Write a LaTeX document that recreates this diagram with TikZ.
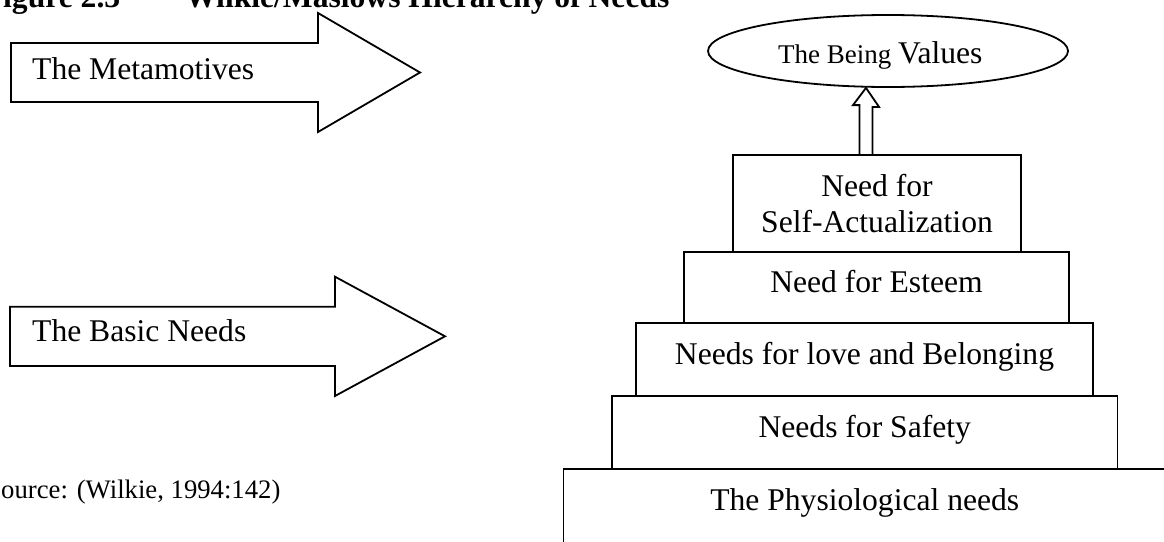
\documentclass[tikz,border=0pt]{standalone}
\usepackage{fontspec}
\setmainfont{Liberation Serif}
\usetikzlibrary{shapes.geometric,calc}
\tikzset{
  outline/.style={line width=1.8pt, line join=miter},
  tier/.style={draw, rectangle, line width=1.8pt, inner sep=0pt,
    font=\fontsize{31.6pt}{36.7pt}\selectfont},
  onetier/.style={tier, text height=19pt, text depth=8.5pt},
  bigtxt/.style={inner sep=0pt, anchor=base west,
    font=\fontsize{31.6pt}{36.7pt}\selectfont},
  titletxt/.style={inner sep=0pt, anchor=base west,
    font=\bfseries\fontsize{31.6pt}{36.7pt}\selectfont},
}
\begin{document}
\begin{tikzpicture}[x=1pt,y=-1pt]
\path[use as bounding box, clip] (0,0) rectangle (1164,541);

% cut-off title
\node[titletxt] (fig) at (3,7) {igure 2.3};
\node[titletxt] (title) at (185,7) {Wilkie/Maslows Hierarchy of Needs};

% block arrows
\draw[outline] (11,43) -- (318,43) -- (318,13) -- (420,72.5) -- (318,132)
  -- (318,102) -- (11,102) -- cycle;
\node[bigtxt] (meta) at (32,79) {The Metamotives};

\draw[outline] (10,306.7) -- (335,306.7) -- (335,276.7) -- (445,336.3)
  -- (335,396) -- (335,366) -- (10,366) -- cycle;
\node[bigtxt] (basic) at (32,341.7) {The Basic Needs};

% the being values
\node[draw, ellipse, line width=1.8pt, minimum width=360pt,
  minimum height=72pt, inner sep=0pt] (bv) at (888,51) {};
\node[inner sep=0pt, anchor=base west] (bvtext) at (778,63)
  {\fontsize{27pt}{30pt}\selectfont The Being
   \fontsize{31.6pt}{36pt}\selectfont Values};

% pyramid tiers
\node[tier, align=center, minimum width=288pt, minimum height=97pt]
  (self) at (877,203.5) {Need for\\Self-Actualization};
\node[onetier, minimum width=384.4pt, minimum height=71pt]
  (esteem) at (876.5,287.5) {Need for Esteem};
\node[onetier, minimum width=457.5pt, minimum height=73pt]
  (love) at (864.5,359.5) {Needs for love and Belonging};
\node[onetier, minimum width=505.5pt, minimum height=73pt]
  (safety) at (864.75,432.5) {Needs for Safety};
\node[tier, text height=19pt, text depth=28pt, minimum width=602.5pt,
  minimum height=91pt] (physio) at (864.75,514.5) {The Physiological needs};

% hollow up arrow from top tier to the ellipse
\coordinate (upbase) at ($(self.north)+(-11,0)$);
\draw[outline] (upbase) ++(-6.5,0) -- ++(0,-49) -- ++(-6.5,0)
  -- (upbase |- bv.south) -- ++(13,19) -- ++(-6.5,0) -- ++(0,49);

% source
\node[inner sep=0pt, anchor=base west, font=\fontsize{26.7pt}{30pt}\selectfont]
  (src) at (1,498.3) {ource: (Wilkie, 1994:142)};
\end{tikzpicture}
\end{document}
